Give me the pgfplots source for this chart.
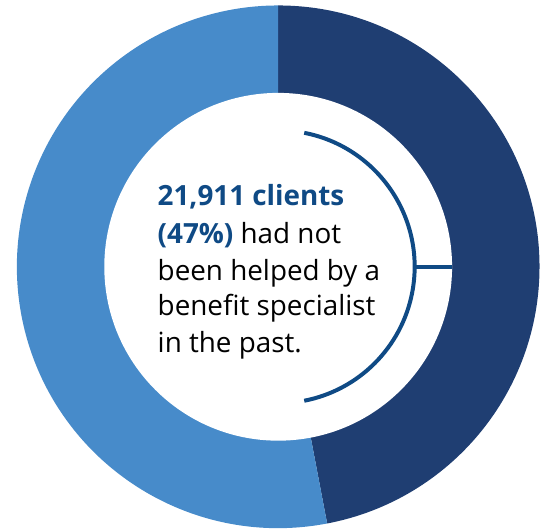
\documentclass[border=0pt]{standalone}
\usepackage{pgfplots}
\pgfplotsset{compat=1.18}
\usepackage{pgfplotstable}
\usepackage{fontspec}
\setmainfont{Open Sans}
\definecolor{darkseg}{HTML}{1F3E72}
\definecolor{lightseg}{HTML}{478BCA}
\definecolor{hlblue}{HTML}{0F4A85}

\pgfplotstableread{
label value
nothelped 47
helped 53
}\donutdata

\begin{document}
\pgfplotstablegetelem{0}{value}\of\donutdata
\pgfmathsetmacro\angA{90-3.6*\pgfplotsretval}
\begin{tikzpicture}
\begin{axis}[hide axis, scale only axis, width=406.5pt, height=400.5pt,
  xmin=0, xmax=542, ymin=0, ymax=534, clip=false]
% donut: 47% dark from the top clockwise, the rest light
\fill[darkseg] (axis cs:276.5,265.5) -- ++(90:197.25pt) arc[start angle=90, end angle=\angA, radius=197.25pt] -- cycle;
\fill[lightseg] (axis cs:276.5,265.5) -- ++(\angA:197.25pt) arc[start angle=\angA, end angle=-270, radius=197.25pt] -- cycle;
\fill[white] (axis cs:276.5,265.5) circle[radius=131.25pt];
% bracket
\draw[hlblue, line width=3pt] (axis cs:276.5,265.5) ++(79:103pt) arc[start angle=79, end angle=-79, radius=103pt];
\draw[hlblue, line width=3pt] (axis cs:276.5,265.5) ++(0:103pt) -- ++(0:28.5pt);
% text
\begin{scope}[every node/.style={anchor=base west, inner sep=0pt, font=\fontsize{21}{26}\selectfont}]
\node at (axis cs:155,327) {\textcolor{hlblue}{\bfseries 21,911 clients}};
\node at (axis cs:155,289) {\textcolor{hlblue}{\bfseries (47\%)} had not};
\node at (axis cs:155,252) {been helped by a};
\node at (axis cs:155,216) {benefit specialist};
\node at (axis cs:155,179) {in the past.};
\end{scope}
\end{axis}
\pgfresetboundingbox
\useasboundingbox (current axis.south west) rectangle (current axis.north east);
\end{tikzpicture}
\end{document}
